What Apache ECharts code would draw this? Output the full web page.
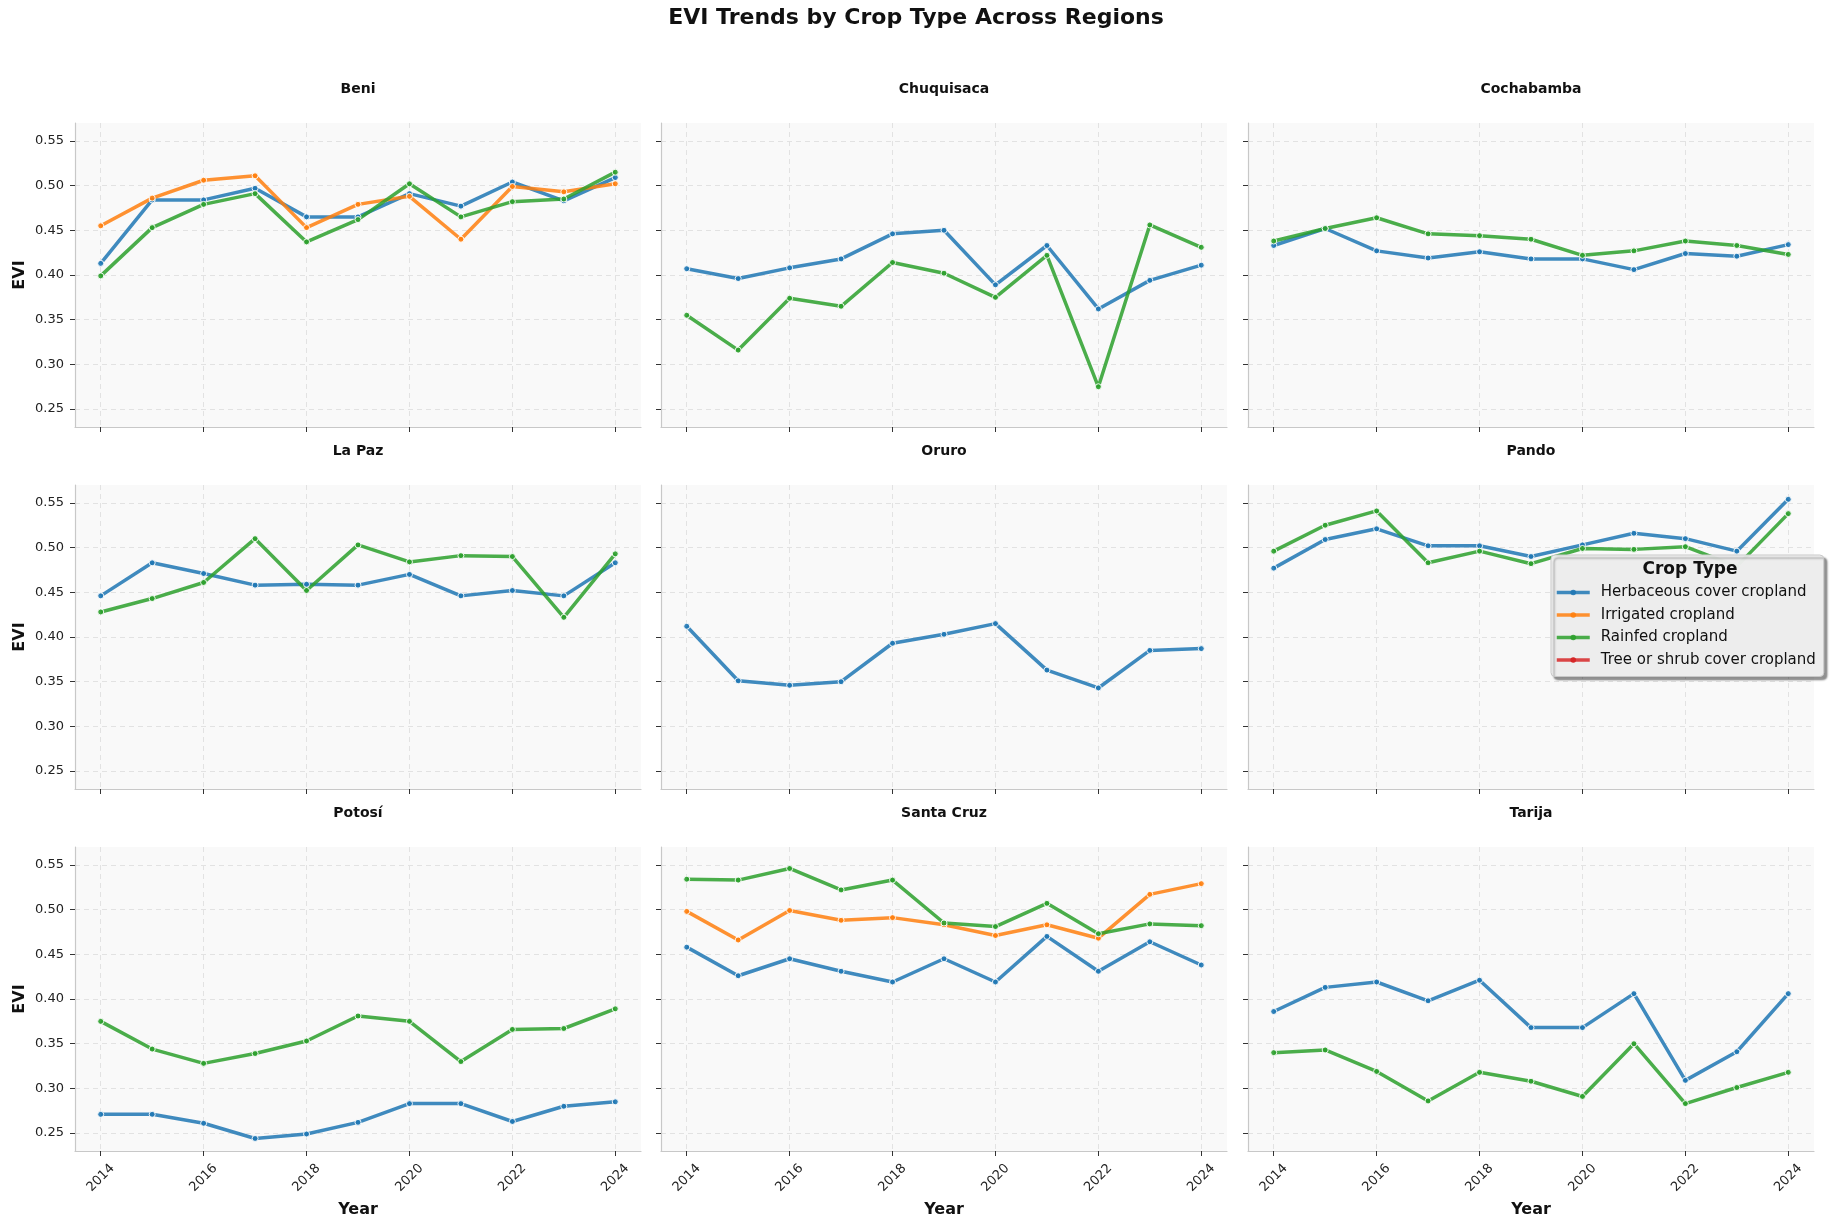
<!DOCTYPE html>
<html>
<head>
<meta charset="utf-8">
<title>EVI Trends by Crop Type Across Regions</title>
<script src="https://cdn.jsdelivr.net/npm/echarts@6/dist/echarts.min.js"></script>
<style>
  html, body { margin: 0; padding: 0; background: #fff; }
  #chart { width: 1832px; height: 1229px; }
</style>
</head>
<body>
<div id="chart"></div>
<script>
const years = [2014, 2015, 2016, 2017, 2018, 2019, 2020, 2021, 2022, 2023, 2024]
const yearTicks = [2014, 2016, 2018, 2020, 2022, 2024]
const eviTicks = [0.25, 0.30, 0.35, 0.40, 0.45, 0.50, 0.55]

const regions = ['Beni', 'Chuquisaca', 'Cochabamba', 'La Paz', 'Oruro', 'Pando', 'Potosí', 'Santa Cruz', 'Tarija']
const cropTypes = ['Herbaceous cover cropland', 'Irrigated cropland', 'Rainfed cropland', 'Tree or shrub cover cropland']
const cropColors = ['#1f77b4', '#ff7f0e', '#2ca02c', '#d62728']

// EVI per region, one array per crop type (null = crop not present)
const beniHerb = [0.413, 0.484, 0.484, 0.497, 0.465, 0.465, 0.491, 0.477, 0.504, 0.483, 0.509]
const beniIrr = [0.455, 0.486, 0.506, 0.511, 0.453, 0.479, 0.488, 0.440, 0.499, 0.493, 0.502]
const beniRain = [0.399, 0.453, 0.479, 0.491, 0.437, 0.462, 0.502, 0.465, 0.482, 0.485, 0.515]

const chuqHerb = [0.407, 0.396, 0.408, 0.418, 0.446, 0.450, 0.389, 0.433, 0.362, 0.394, 0.411]
const chuqRain = [0.355, 0.316, 0.374, 0.365, 0.414, 0.402, 0.375, 0.422, 0.275, 0.456, 0.431]

const cochHerb = [0.433, 0.452, 0.427, 0.419, 0.426, 0.418, 0.418, 0.406, 0.424, 0.421, 0.434]
const cochRain = [0.438, 0.452, 0.464, 0.446, 0.444, 0.440, 0.422, 0.427, 0.438, 0.433, 0.423]

const lapazHerb = [0.446, 0.483, 0.471, 0.458, 0.459, 0.458, 0.470, 0.446, 0.452, 0.446, 0.483]
const lapazRain = [0.428, 0.443, 0.461, 0.510, 0.452, 0.503, 0.484, 0.491, 0.490, 0.422, 0.493]

const oruroHerb = [0.412, 0.351, 0.346, 0.350, 0.393, 0.403, 0.415, 0.363, 0.343, 0.385, 0.387]

const pandoHerb = [0.477, 0.509, 0.521, 0.502, 0.502, 0.490, 0.503, 0.516, 0.510, 0.496, 0.554]
const pandoRain = [0.496, 0.525, 0.541, 0.483, 0.496, 0.482, 0.499, 0.498, 0.501, 0.479, 0.538]

const potosiHerb = [0.271, 0.271, 0.261, 0.244, 0.249, 0.262, 0.283, 0.283, 0.263, 0.280, 0.285]
const potosiRain = [0.375, 0.344, 0.328, 0.339, 0.353, 0.381, 0.375, 0.330, 0.366, 0.367, 0.389]

const scHerb = [0.458, 0.426, 0.445, 0.431, 0.419, 0.445, 0.419, 0.470, 0.431, 0.464, 0.438]
const scIrr = [0.498, 0.466, 0.499, 0.488, 0.491, 0.483, 0.471, 0.483, 0.468, 0.517, 0.529]
const scRain = [0.534, 0.533, 0.546, 0.522, 0.533, 0.485, 0.481, 0.507, 0.473, 0.484, 0.482]

const tarijaHerb = [0.386, 0.413, 0.419, 0.398, 0.421, 0.368, 0.368, 0.406, 0.309, 0.341, 0.406]
const tarijaRain = [0.340, 0.343, 0.319, 0.286, 0.318, 0.308, 0.291, 0.350, 0.283, 0.301, 0.318]

// region -> [herb, irrigated, rainfed, tree]
const regionSeries = [
  [beniHerb, beniIrr, beniRain, null],
  [chuqHerb, null, chuqRain, null],
  [cochHerb, null, cochRain, null],
  [lapazHerb, null, lapazRain, null],
  [oruroHerb, null, null, null],
  [pandoHerb, null, pandoRain, null],
  [potosiHerb, null, potosiRain, null],
  [scHerb, scIrr, scRain, null],
  [tarijaHerb, null, tarijaRain, null]
]

const FONT = 'DejaVu Sans'
const colLeft = [75, 661, 1248]
const rowTop = [123, 485, 847]
const gridW = 566
const gridH = 304

const chart = echarts.init(document.getElementById('chart'))

const grids = []
const xAxes = []
const yAxes = []
const titles = [{
  text: 'EVI Trends by Crop Type Across Regions',
  left: 'center',
  top: 7,
  padding: 0,
  textStyle: { fontFamily: FONT, fontSize: 22, fontWeight: 'bold', color: '#111' }
}]
const series = []

regions.forEach((region, i) => {
  const row = Math.floor(i / 3)
  const col = i % 3
  grids.push({
    left: colLeft[col],
    top: rowTop[row],
    width: gridW,
    height: gridH,
    show: true,
    backgroundColor: '#f9f9f9',
    borderWidth: 0,
    outerBoundsMode: 'none'
  })
  titles.push({
    text: region,
    left: colLeft[col] + gridW / 2,
    textAlign: 'center',
    top: rowTop[row] - 41,
    padding: 0,
    textStyle: { fontFamily: FONT, fontSize: 14, fontWeight: 'bold', color: '#111' }
  })
  xAxes.push({
    type: 'value',
    gridIndex: i,
    min: 2013.5,
    max: 2024.5,
    name: row === 2 ? 'Year' : '',
    nameLocation: 'middle',
    nameGap: 51,
    nameTextStyle: { fontFamily: FONT, fontSize: 16, fontWeight: 'bold', color: '#111' },
    axisLine: { show: true, lineStyle: { color: '#c8c8c8', width: 1.2 } },
    axisTick: { show: true, length: 5, customValues: yearTicks, lineStyle: { color: '#333' } },
    axisLabel: {
      show: row === 2,
      customValues: yearTicks,
      formatter: v => String(v),
      rotate: 45,
      align: 'center',
      verticalAlign: 'middle',
      margin: 27,
      fontFamily: FONT,
      fontSize: 13,
      color: '#222'
    },
    splitLine: { show: true, lineStyle: { color: '#e2e2e2', type: [5, 4], width: 1 } }
  })
  yAxes.push({
    type: 'value',
    gridIndex: i,
    min: 0.23,
    max: 0.57,
    name: col === 0 ? 'EVI' : '',
    nameLocation: 'middle',
    nameGap: 47,
    nameTextStyle: { fontFamily: FONT, fontSize: 16, fontWeight: 'bold', color: '#111' },
    axisLine: { show: true, lineStyle: { color: '#c8c8c8', width: 1.2 } },
    axisTick: { show: true, length: 5, customValues: eviTicks, lineStyle: { color: '#333' } },
    axisLabel: {
      show: col === 0,
      customValues: eviTicks,
      margin: 11,
      fontFamily: FONT,
      fontSize: 13,
      color: '#222',
      formatter: v => v.toFixed(2)
    },
    splitLine: { show: true, lineStyle: { color: '#e2e2e2', type: [5, 4], width: 1 } }
  })

  regionSeries[i].forEach((vals, k) => {
    if (!vals) return
    series.push({
      name: cropTypes[k],
      type: 'line',
      xAxisIndex: i,
      yAxisIndex: i,
      data: years.map((y, j) => [y, vals[j]]),
      symbol: 'circle',
      symbolSize: 6,
      color: cropColors[k],
      lineStyle: { width: 3.5, opacity: 0.85 },
      itemStyle: { color: cropColors[k], borderColor: '#fff', borderWidth: 1, opacity: 0.9 },
      emphasis: { disabled: true }
    })
  })
})

// the tree/shrub class has no data here but still appears in the legend
series.push({
  name: cropTypes[3],
  type: 'line',
  xAxisIndex: 5,
  yAxisIndex: 5,
  data: [],
  symbol: 'circle',
  symbolSize: 6,
  color: cropColors[3],
  lineStyle: { width: 3.5, opacity: 0.85 },
  itemStyle: { color: cropColors[3], borderColor: '#fff', borderWidth: 1 }
})

titles.push({
  text: 'Crop Type',
  left: 1690,
  textAlign: 'center',
  top: 561,
  padding: 0,
  z: 10,
  textStyle: { fontFamily: FONT, fontSize: 17, fontWeight: 'bold', color: '#111' }
})

const option = {
  animation: false,
  backgroundColor: '#fff',
  title: titles,
  grid: grids,
  xAxis: xAxes,
  yAxis: yAxes,
  legend: {
    data: cropTypes,
    orient: 'vertical',
    left: 1551,
    top: 555,
    padding: [30, 8, 9, 4],
    itemGap: 7.5,
    itemWidth: 33,
    itemHeight: 7,
    align: 'left',
    lineStyle: { width: 3.5 },
    itemStyle: { borderWidth: 0 },
    backgroundColor: 'rgba(242,242,242,0.95)',
    borderColor: '#c8c8c8',
    borderWidth: 1,
    borderRadius: 4,
    shadowColor: 'rgba(0,0,0,0.45)',
    shadowBlur: 2,
    shadowOffsetX: 3,
    shadowOffsetY: 3,
    selectedMode: false,
    textStyle: { fontFamily: FONT, fontSize: 15, color: '#111', padding: [0, 0, 0, 6] }
  },
  series: series
}

chart.setOption(option)

window.addEventListener('resize', () => chart.resize())
</script>
</body>
</html>
